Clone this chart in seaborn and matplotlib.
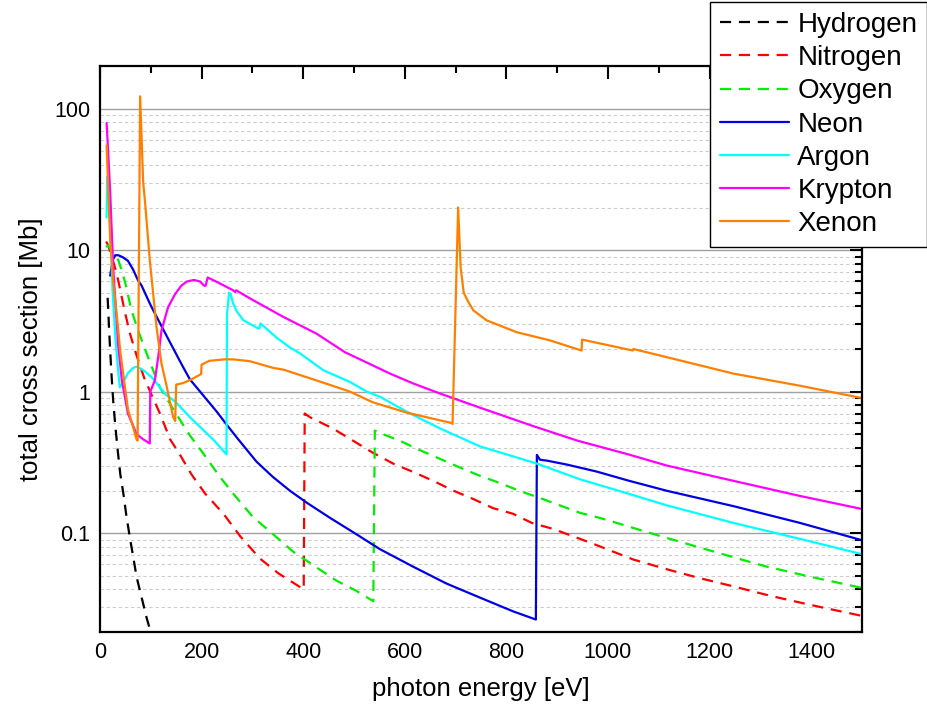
import numpy as np
import pandas as pd
import seaborn as sns
import matplotlib
matplotlib.use("Agg")
import matplotlib.pyplot as plt
from matplotlib.ticker import FixedLocator, MultipleLocator, FuncFormatter, LogLocator, NullFormatter

# ---------------- data (photon energy [eV], total cross section [Mb]) ----------------
elements = ["Hydrogen", "Nitrogen", "Oxygen", "Neon", "Argon", "Krypton", "Xenon"]
colors = ["#000000", "#ff0000", "#00ee00", "#0000e6", "#00ffff", "#ff00ff", "#ff8000"]
dashed = [True, True, True, False, False, False, False]

h_energy = [15, 16.5, 18, 20, 23, 26, 30, 35, 40, 46, 52, 59, 66, 72, 82, 92, 99]
h_sigma = [4.6, 3.6, 2.7, 1.95, 1.26, 0.86, 0.58, 0.38, 0.26, 0.19, 0.132, 0.092,
           0.066, 0.049, 0.035, 0.025, 0.0205]

n_energy = [12, 15, 20, 26, 33, 41, 49, 59, 72, 87, 102, 118, 138, 157, 180, 207, 243,
            276, 315, 351, 401, 403, 413, 459, 498, 537, 577, 617, 656, 695, 735, 774,
            813, 850, 892, 931, 971, 1010, 1050, 1120, 1181, 1247, 1320, 1400, 1500]
n_sigma = [11.5, 11.0, 9.8, 8.3, 6.8, 5.0, 3.65, 2.57, 1.8, 1.25, 0.94, 0.70, 0.46,
           0.36, 0.26, 0.19, 0.137, 0.095, 0.066, 0.052, 0.040, 0.70, 0.66, 0.547,
           0.45, 0.37, 0.31, 0.27, 0.234, 0.20, 0.174, 0.15, 0.137, 0.118, 0.107,
           0.095, 0.084, 0.074, 0.065, 0.055, 0.048, 0.042, 0.036, 0.031, 0.026]

o_energy = [12, 16, 24, 36, 42, 49, 62, 75, 94.5, 118, 135, 154, 177, 207, 236, 266,
            301, 341, 380, 427, 466, 505, 538, 541, 551, 590, 630, 669, 709, 748, 787,
            827, 866, 899, 945, 984, 1024, 1100, 1181, 1250, 1312, 1400, 1500]
o_sigma = [10.5, 10.8, 9.8, 8.5, 7.3, 6.0, 3.75, 2.7, 1.75, 1.07, 0.85, 0.66, 0.49,
           0.35, 0.25, 0.183, 0.13, 0.098, 0.074, 0.057, 0.046, 0.039, 0.033, 0.53,
           0.51, 0.45, 0.385, 0.335, 0.29, 0.254, 0.226, 0.198, 0.177, 0.16, 0.139,
           0.128, 0.116, 0.096, 0.079, 0.067, 0.058, 0.049, 0.041]

ne_energy = [20, 25, 30, 36, 45, 55, 65, 75, 82, 98, 104, 128, 148, 164, 177, 197, 230,
             250, 270, 308, 340, 374, 407, 453, 505, 551, 616, 682, 748, 813, 858, 860,
             866, 880, 919, 978, 1040, 1116, 1247, 1378, 1500]
ne_sigma = [6.6, 8.5, 9.2, 9.2, 8.9, 8.4, 7.3, 6.1, 5.6, 4.2, 3.8, 2.6, 1.9, 1.48, 1.22,
            1.0, 0.72, 0.58, 0.47, 0.32, 0.25, 0.199, 0.164, 0.128, 0.098, 0.077, 0.058,
            0.044, 0.035, 0.028, 0.0245, 0.357, 0.33, 0.325, 0.305, 0.272, 0.235, 0.199,
            0.155, 0.118, 0.089]

ar_energy = [13, 14, 16, 20, 25, 30, 35, 39, 45, 55, 65, 72, 85, 102, 130, 148, 177,
             200, 225, 249, 250, 254, 257, 262, 269, 282, 311, 314, 316, 348, 374, 394,
             439, 492, 525, 551, 604, 669, 748, 860, 945, 1040, 1116, 1247, 1378, 1500]
ar_sigma = [17, 33, 30, 14, 5.0, 2.5, 1.5, 1.07, 1.15, 1.35, 1.47, 1.5, 1.42, 1.26,
            0.95, 0.85, 0.66, 0.55, 0.45, 0.36, 3.5, 5.0, 4.9, 4.2, 3.7, 3.2, 2.8, 2.8,
            3.03, 2.4, 2.05, 1.86, 1.42, 1.17, 1.0, 0.92, 0.72, 0.55, 0.41, 0.31, 0.24,
            0.19, 0.157, 0.118, 0.091, 0.071]

kr_energy = [13, 16, 20, 26, 30, 36, 43, 55, 72, 85, 98, 99, 108, 115, 121, 134, 148,
             160, 171, 185, 197, 205, 208, 212, 230, 262, 266, 268, 295, 361, 426, 482,
             571, 617, 669, 748, 853, 940, 1040, 1116, 1247, 1378, 1500]
kr_sigma = [79, 50, 26, 7.5, 4.5, 2.1, 1.2, 0.70, 0.50, 0.46, 0.43, 1.0, 1.2, 1.8, 2.7,
            3.95, 4.9, 5.6, 6.0, 6.15, 6.0, 5.6, 5.6, 6.4, 5.96, 5.2, 5.05, 5.2, 4.56,
            3.37, 2.57, 1.9, 1.34, 1.14, 0.97, 0.77, 0.57, 0.45, 0.36, 0.30, 0.234,
            0.183, 0.148]

xe_energy = [13, 16, 20, 26, 33, 40, 55, 72, 74, 79, 85, 88.6, 98, 104, 111, 121, 131,
             144, 148, 150, 164, 180, 199, 200, 215, 245, 262, 295, 341, 361, 426, 492,
             537, 604, 692, 694, 705, 710, 716, 725, 735, 761, 820, 886, 948, 949, 984,
             1049, 1050, 1116, 1247, 1378, 1500]
xe_sigma = [55, 28, 12, 6.0, 3.5, 1.9, 0.75, 0.46, 0.45, 122, 30, 22, 8.5, 5.2, 2.9,
            1.58, 1.1, 0.66, 0.62, 1.12, 1.15, 1.22, 1.33, 1.55, 1.65, 1.69, 1.69, 1.64,
            1.47, 1.43, 1.2, 1.0, 0.84, 0.71, 0.60, 0.59, 20, 7.5, 5.0, 4.3, 3.75, 3.19,
            2.63, 2.3, 1.95, 2.33, 2.19, 1.95, 2.0, 1.75, 1.34, 1.1, 0.90]

energies = [h_energy, n_energy, o_energy, ne_energy, ar_energy, kr_energy, xe_energy]
sigmas = [h_sigma, n_sigma, o_sigma, ne_sigma, ar_sigma, kr_sigma, xe_sigma]

frames = []
for name, e, s in zip(elements, energies, sigmas):
    frames.append(pd.DataFrame({"energy": e, "sigma": s, "element": name}))
df = pd.concat(frames, ignore_index=True)

# ---------------- figure ----------------
sns.set_theme(style="white")
plt.rcParams["font.family"] = ["Liberation Sans", "DejaVu Sans"]
plt.rcParams["text.color"] = "black"

fig = plt.figure(figsize=(9.28, 7.15), dpi=100)
ax = fig.add_axes([100 / 928, 1 - 632 / 715, 762 / 928, 566 / 715])

palette = dict(zip(elements, colors))
dash_map = {n: ((5, 3.5) if d else "") for n, d in zip(elements, dashed)}

sns.lineplot(data=df, x="energy", y="sigma", hue="element", style="element",
             palette=palette, dashes=dash_map, hue_order=elements, style_order=elements,
             estimator=None, sort=False, units="element", linewidth=1.6,
             legend=False, ax=ax)

ax.set_yscale("log")
ax.set_xlim(0, 1500)
ax.set_ylim(0.02, 200)

ax.xaxis.set_major_locator(MultipleLocator(200))
ax.xaxis.set_minor_locator(MultipleLocator(100))
ax.yaxis.set_major_locator(FixedLocator([0.1, 1, 10, 100]))
ax.yaxis.set_minor_locator(LogLocator(base=10, subs=np.arange(2, 10)))
ax.yaxis.set_major_formatter(FuncFormatter(lambda v, p: "%g" % v))
ax.yaxis.set_minor_formatter(NullFormatter())

ax.set_axisbelow(True)
ax.yaxis.grid(True, which="major", color="#a0a0a0", linewidth=1.0, linestyle="-")
ax.yaxis.grid(True, which="minor", color="#cccccc", linewidth=0.8, linestyle=(0, (3, 2.5)))
ax.xaxis.grid(False)

for sp in ax.spines.values():
    sp.set_color("black")
    sp.set_linewidth(1.6)

ax.tick_params(which="both", direction="in", top=True, right=True, colors="black",
               labelsize=15.5, width=1.5)
ax.tick_params(which="major", length=9, pad=7)
ax.tick_params(which="minor", length=5)

ax.set_xlabel("photon energy [eV]", fontsize=18.5, labelpad=10, color="black")
ax.set_ylabel("total cross section [Mb]", fontsize=18.5, labelpad=8, color="black")

handles = ax.get_lines()[:len(elements)]
leg = fig.legend(handles, elements, loc="upper right", bbox_to_anchor=(0.999, 0.997),
                 fontsize=20, frameon=True, fancybox=False, framealpha=1,
                 edgecolor="black", handlelength=2.5, handletextpad=0.3,
                 labelspacing=0.26, borderpad=0.35, borderaxespad=0,
                 labelcolor="black")
leg.get_frame().set_linewidth(1.0)
leg.set_zorder(10)

fig.savefig("out.png", dpi=100)
